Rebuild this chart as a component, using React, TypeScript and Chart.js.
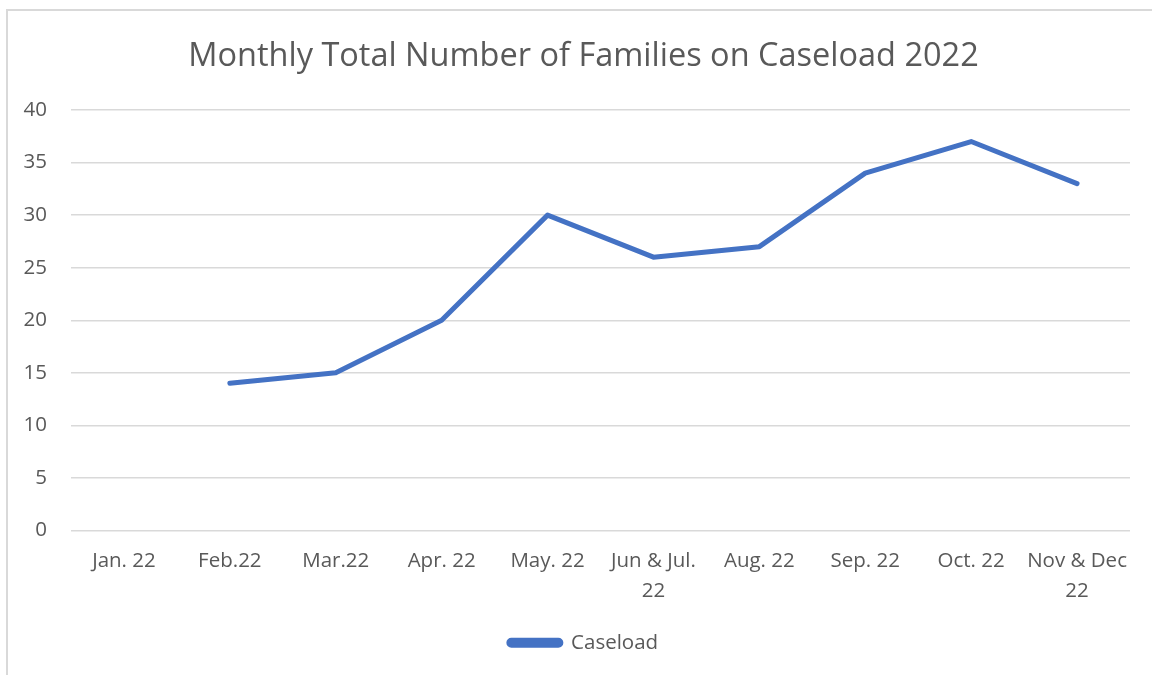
import React, { useEffect, useRef } from 'react';
import { Chart, registerables } from 'chart.js';

Chart.register(...registerables);

const chartTitle = 'Monthly Total Number of Families on Caseload 2022';
const categories: (string | string[])[] = [
  'Jan. 22',
  'Feb.22',
  'Mar.22',
  'Apr. 22',
  'May. 22',
  ['Jun & Jul.', '22'],
  'Aug. 22',
  'Sep. 22',
  'Oct. 22',
  ['Nov & Dec', '22'],
];
const seriesName = 'Caseload';
const caseload: (number | null)[] = [null, 14, 15, 20, 30, 26, 27, 34, 37, 33];
const yMin = 0;
const yMax = 40;
const yStep = 5;

const FONT = '"Open Sans", "Noto Sans", sans-serif';
const TEXT = '#595959';

export default function App() {
  const ref = useRef<HTMLCanvasElement | null>(null);

  useEffect(() => {
    if (!ref.current) return;
    const chart = new Chart(ref.current, {
      type: 'line',
      data: {
        labels: categories,
        datasets: [
          {
            label: seriesName,
            data: caseload,
            borderColor: '#4472C4',
            backgroundColor: '#4472C4',
            borderWidth: 5,
            pointRadius: 0,
            pointHoverRadius: 0,
            tension: 0,
            borderCapStyle: 'round',
            borderJoinStyle: 'round',
            fill: false,
            yAxisID: 'y',
          },
        ],
      },
      options: {
        responsive: false,
        animation: false,
        maintainAspectRatio: false,
        layout: { padding: { left: 15, right: 0, top: 0, bottom: 12 } },
        plugins: {
          title: {
            display: true,
            text: chartTitle,
            color: TEXT,
            font: { family: FONT, size: 32.5, weight: 'normal', lineHeight: 1.2 },
            padding: { top: 37, bottom: 34 },
          },
          legend: {
            display: true,
            position: 'bottom',
            labels: {
              color: TEXT,
              font: { family: FONT, size: 20.5 },
              boxWidth: 52,
              boxHeight: 5,
              useBorderRadius: true,
              borderRadius: 2.5,
              padding: 10,
            },
          },
          tooltip: { enabled: false },
        },
        scales: {
          x: {
            type: 'category',
            offset: true,
            grid: { display: false, drawTicks: false },
            border: { display: false },
            ticks: {
              color: TEXT,
              font: { family: FONT, size: 20.5, lineHeight: 1.42 },
              padding: 16.5,
              maxRotation: 0,
              autoSkip: false,
            },
            afterFit: (s: any) => {
              s.height = 92;
            },
          },
          y: {
            type: 'linear',
            position: 'left',
            min: yMin,
            max: yMax,
            grid: { color: '#d9d9d9', lineWidth: 1.5, drawTicks: false },
            border: { display: false },
            ticks: {
              stepSize: yStep,
              color: TEXT,
              font: { family: FONT, size: 20.5 },
              padding: 24,
            },
            afterFit: (s: any) => {
              s.width = 56;
            },
          },
          y2: {
            type: 'linear',
            position: 'right',
            display: true,
            min: 0,
            max: 1,
            grid: { display: false, drawTicks: false },
            border: { display: false },
            ticks: { display: false },
            afterFit: (s: any) => {
              s.width = 22;
            },
          },
        },
      },
    });
    return () => chart.destroy();
  }, []);

  return (
    <div
      style={{
        position: 'fixed',
        left: 0,
        top: 0,
        width: 1152,
        height: 675,
        background: '#ffffff',
        overflow: 'hidden',
      }}
    >
      <div
        style={{
          position: 'absolute',
          left: 6,
          top: 9,
          width: 1170,
          height: 700,
          border: '2px solid #d9d9d9',
          boxSizing: 'border-box',
        }}
      />
      <canvas
        ref={ref}
        width={1152}
        height={675}
        style={{ position: 'absolute', left: 0, top: 0, width: 1152, height: 675 }}
      />
    </div>
  );
}
